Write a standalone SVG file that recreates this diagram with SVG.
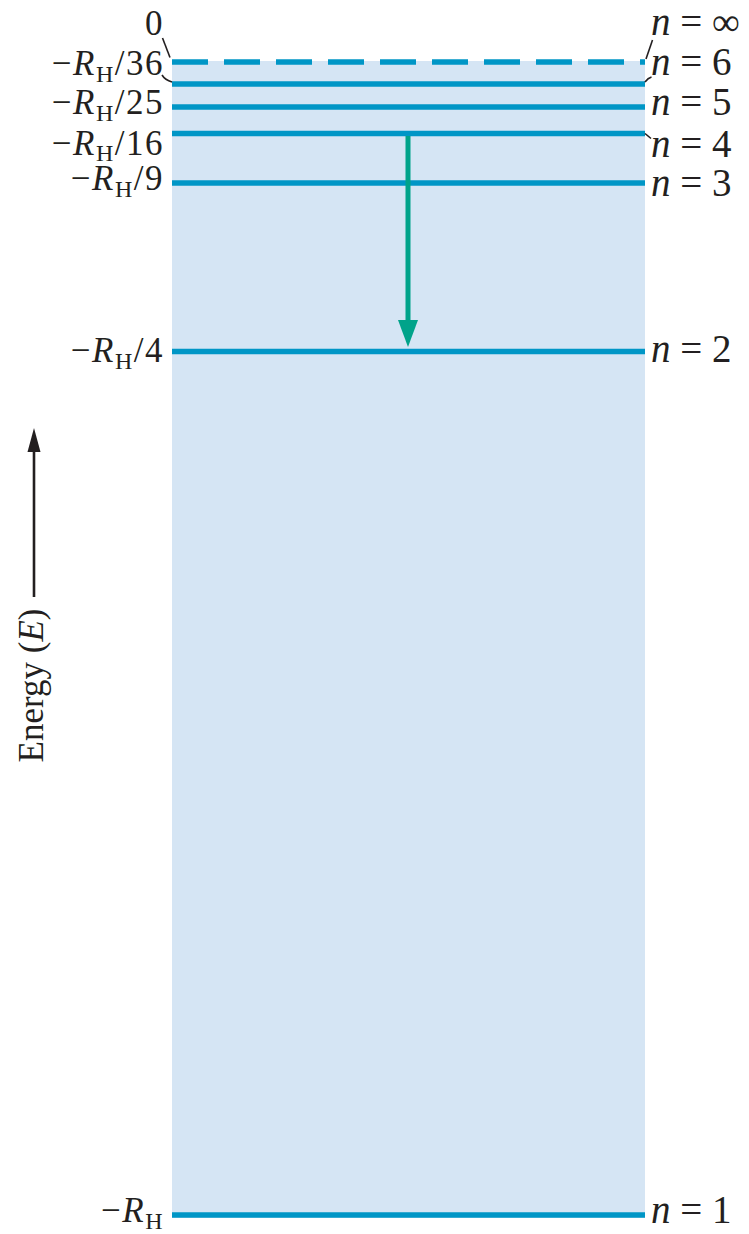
<svg xmlns="http://www.w3.org/2000/svg" width="749" height="1234" viewBox="0 0 749 1234">
<defs>
<style>
.lvl{stroke:#0096c6;stroke-width:5.5;fill:none}
.lab{font-family:"Liberation Serif","Times New Roman",serif;fill:#231f20}
.l{font-size:35px;text-anchor:end;letter-spacing:1.5px}
.r{font-size:39px}
.sub{font-size:24px;font-style:normal}
.it{font-style:italic}
.lead{stroke:#231f20;stroke-width:1.6;fill:none}
</style>
</defs>
<rect width="749" height="1234" fill="#ffffff"/>
<g id="well">
<rect x="172" y="61" width="473" height="1157" fill="#d5e5f4"/>
</g>
<g id="levels">
<line id="n_inf" class="lvl" x1="172" y1="62" x2="645" y2="62" stroke-dasharray="36 16"/>
<line id="n6" class="lvl" x1="172" y1="84" x2="645" y2="84"/>
<line id="n5" class="lvl" x1="172" y1="107" x2="645" y2="107"/>
<line id="n4" class="lvl" x1="172" y1="133.5" x2="645" y2="133.5"/>
<line id="n3" class="lvl" x1="172" y1="183" x2="645" y2="183"/>
<line id="n2" class="lvl" x1="172" y1="351.5" x2="645" y2="351.5"/>
<line id="n1" class="lvl" x1="172" y1="1215" x2="645" y2="1215"/>
</g>
<g id="left-labels" class="lab">
<text class="l" x="164" y="35">0</text>
<text class="l" x="164" y="75">−<tspan class="it">R</tspan><tspan class="sub" dy="7">H</tspan><tspan dy="-7">/36</tspan></text>
<text class="l" x="164" y="114">−<tspan class="it">R</tspan><tspan class="sub" dy="7">H</tspan><tspan dy="-7">/25</tspan></text>
<text class="l" x="164" y="155">−<tspan class="it">R</tspan><tspan class="sub" dy="6">H</tspan><tspan dy="-6">/16</tspan></text>
<text class="l" x="164" y="190">−<tspan class="it">R</tspan><tspan class="sub" dy="7">H</tspan><tspan dy="-7">/9</tspan></text>
<text class="l" x="164" y="362">−<tspan class="it">R</tspan><tspan class="sub" dy="7">H</tspan><tspan dy="-7">/4</tspan></text>
<text class="l" x="164" y="1222">−<tspan class="it">R</tspan><tspan class="sub" dy="7">H</tspan></text>
</g>
<g id="right-labels" class="lab r">
<text x="651" y="35"><tspan class="it">n</tspan> = ∞</text>
<text x="651" y="75"><tspan class="it">n</tspan> = 6</text>
<text x="651" y="115"><tspan class="it">n</tspan> = 5</text>
<text x="651" y="157"><tspan class="it">n</tspan> = 4</text>
<text x="651" y="196"><tspan class="it">n</tspan> = 3</text>
<text x="651" y="362"><tspan class="it">n</tspan> = 2</text>
<text x="651" y="1223"><tspan class="it">n</tspan> = 1</text>
</g>
<g id="axis">
<line x1="34" y1="597" x2="34" y2="448" stroke="#231f20" stroke-width="2.6"/>
<polygon points="34,428 27.5,452 40.5,452" fill="#231f20"/>
<text class="lab" font-size="35" text-anchor="middle" transform="translate(43,685.5) rotate(-90)">Energy (<tspan class="it">E</tspan>)</text>
</g>
<g id="connectors">
<line x1="408" y1="136" x2="408" y2="322" stroke="#00a38a" stroke-width="5"/>
<polygon points="398,320 418,320 408,347" fill="#00a38a"/>
<path class="lead" d="M162.5,38 L170,57.5"/>
<path class="lead" d="M162,75 Q165,80 172,82"/>
<path class="lead" d="M652.5,40 L646,59"/>
<path class="lead" d="M645,82 Q648,78 651.5,77"/>
<path class="lead" d="M645,133.5 Q648,136 651,138.5"/>
</g>
</svg>
